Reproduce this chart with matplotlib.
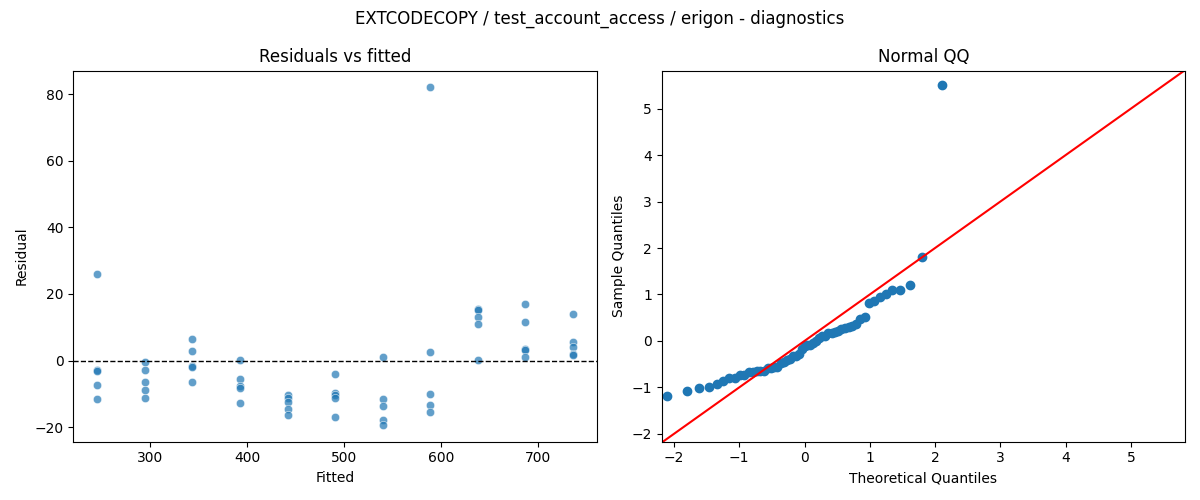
import matplotlib
matplotlib.use("Agg")
import matplotlib.pyplot as plt
import numpy as np
import seaborn as sns
from statistics import NormalDist

# fitted levels (11 groups, 5 runs each)
levels = [245.3, 294.4, 343.5, 392.6, 441.7, 490.8, 539.9, 589.0, 638.1, 687.2, 736.3]

# residuals per fitted level
res_groups = [
    [26.0, -2.7, -3.0, -7.2, -11.4],
    [-0.5, -2.7, -6.4, -8.7, -11.1],
    [6.5, 3.0, -1.5, -1.9, -6.4],
    [0.3, -5.5, -7.7, -8.2, -12.6],
    [-10.2, -11.3, -12.3, -14.4, -16.3],
    [-4.0, -9.7, -10.3, -11.1, -16.8],
    [1.1, -11.4, -13.6, -17.7, -19.3],
    [82.0, 2.6, -10.0, -13.3, -15.4],
    [15.4, 15.2, 13.1, 11.0, 0.2],
    [17.0, 11.6, 3.5, 3.2, 1.1],
    [14.0, 5.7, 4.1, 2.0, 1.7],
]

fitted = []
resid = []
for lv, grp in zip(levels, res_groups):
    for r in grp:
        fitted.append(lv)
        resid.append(r)
fitted = np.array(fitted)
resid = np.array(resid)

# normal qq: standardised residuals vs normal quantiles
n = len(resid)
sample_q = np.sort((resid - resid.mean()) / resid.std())
theo_q = np.array([NormalDist().inv_cdf(i / (n + 1)) for i in range(1, n + 1)])

fig, (ax1, ax2) = plt.subplots(1, 2, figsize=(12, 5), dpi=100)

sns.scatterplot(x=fitted, y=resid, alpha=0.7, ax=ax1)
ax1.axhline(0, color="black", linestyle="--", linewidth=1)
ax1.set_title("Residuals vs fitted")
ax1.set_xlabel("Fitted")
ax1.set_ylabel("Residual")

ax2.plot(theo_q, sample_q, "o", color="C0")
lims = [-2.19, 5.83]
ax2.plot(lims, lims, color="red")
ax2.set_xlim(lims)
ax2.set_ylim(-2.17, 5.82)
ax2.set_title("Normal QQ")
ax2.set_xlabel("Theoretical Quantiles")
ax2.set_ylabel("Sample Quantiles")

fig.suptitle("EXTCODECOPY / test_account_access / erigon - diagnostics")
fig.tight_layout()
fig.savefig("out.png")
